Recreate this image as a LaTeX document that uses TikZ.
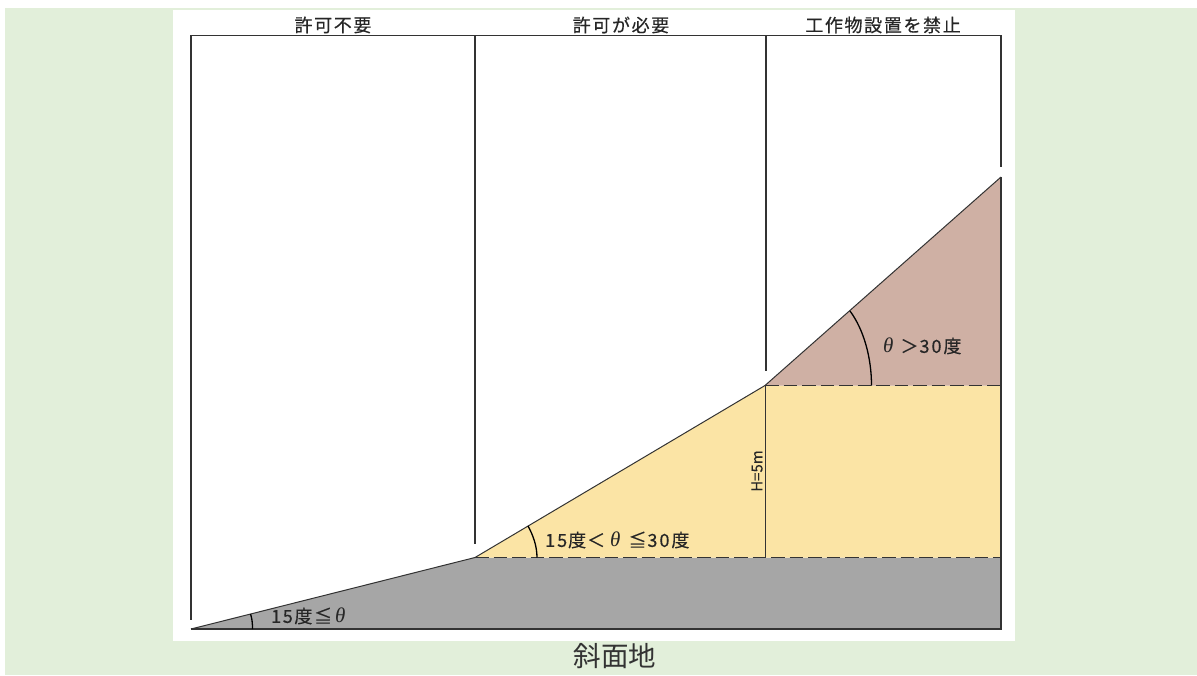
\documentclass[tikz,border=0pt]{standalone}
\usepackage{fontspec}
\setmainfont{Liberation Sans}
\newfontfamily\jp[FakeBold=0.3]{Noto Sans CJK JP}
\newfontfamily\jpcap{Noto Sans CJK JP}
\newfontfamily\jpwide[LetterSpace=9,FakeBold=0.4]{Noto Sans CJK JP}
\newfontfamily\thetaf{Liberation Serif}
\newcommand{\thet}{{\thetaf\itshape\fontsize{21}{21}\selectfont θ}}
\usepackage{xcolor}
\definecolor{pagegreen}{HTML}{E2EFDA}
\definecolor{greyfill}{HTML}{A6A6A6}
\definecolor{yellowfill}{HTML}{FBE4A5}
\definecolor{brownfill}{HTML}{CFB0A4}
\definecolor{inkline}{HTML}{333333}
\tikzset{
  wall/.style={draw=inkline,line width=1.5pt},
  slope/.style={draw=inkline,line width=1pt},
  dashline/.style={draw=inkline,line width=1.5pt,dash pattern=on 13.5pt off 5pt},
  arcline/.style={draw=black,line width=1.3pt},
  lab/.style={inner sep=0pt,font=\jpwide\fontsize{18}{18}\selectfont,text=black!85},
}
\begin{document}
\begin{tikzpicture}[x=1pt,y=-1pt]
\useasboundingbox (0,0) rectangle (1197,675);
\fill[white] (0,0) rectangle (1197,675);
\fill[pagegreen] (5,8) rectangle (1197,675);
\fill[white] (173,10) rectangle (1015,641);
% coordinates
\coordinate (toe) at (191,629);
\coordinate (k1) at (475,557.5);
\coordinate (k2) at (765,385.5);
\coordinate (top) at (1001,177);
\coordinate (br) at (1001,629);
\coordinate (y1) at (1001,557.5);
\coordinate (y2) at (1001,385.5);
% fills
\fill[greyfill] (toe) -- (k1) -- (y1) -- (br) -- cycle;
\fill[yellowfill] (k1) -- (k2) -- (y2) -- (y1) -- cycle;
\fill[brownfill] (k2) -- (top) -- (y2) -- cycle;
% ground lines
\draw[slope] (toe) -- (k1) -- (k2) -- (top);
\draw[wall] (toe) -- (br) -- (top);
\draw[dashline] (k1) -- (y1);
\draw[dashline] (k2) -- (y2);
\draw[slope] (k2) -- (765,557.5);
% dimension lines
\coordinate (d0) at (191,35);
\coordinate (d1) at (475,35);
\coordinate (d2) at (766,35);
\coordinate (d3) at (1001,35);
\draw[slope] (d0) -- (d3);
\draw[wall] (d0) -- (191,620);
\draw[wall] (d1) -- (475,544);
\draw[wall] (d2) -- (766,371);
\draw[wall] (d3) -- (1001,167);
\draw[wall] (191,35.5) -- (196,35.5);
\draw[wall] (470,35.5) -- (481,35.5);
\draw[wall] (761,35.5) -- (771,35.5);
\draw[wall] (996,35.5) -- (1001,35.5);
% arcs
\draw[arcline] (250.5,614) .. controls (252,618) and (252.5,623) .. (252.5,629);
\draw[arcline] (528,526) .. controls (533,535) and (537,546) .. (537,557.5);
\draw[arcline] (850,311) .. controls (864,330) and (871.5,358) .. (871.5,385.5);
% labels
\node[lab] (t1) at (333,25) {許可不要};
\node[lab] (t2) at (621,25) {許可が必要};
\node[lab] (t3) at (883,25) {工作物設置を禁止};
\node[lab,anchor=west] (a1) at (271,616) {15度≦\hspace{3pt}\thet};
\node[lab,anchor=west] (a2) at (545,540) {1\hspace{2pt}5\hspace{1pt}度\hspace{1pt}＜\hspace{5pt}\thet\hspace{8pt}≦\hspace{1pt}3\hspace{2pt}0\hspace{2pt}度};
\node[lab,anchor=west] (a3) at (883,346) {\thet\hspace{7pt}＞\hspace{1pt}3\hspace{2pt}0\hspace{2pt}度};
\node[lab,rotate=90,font=\jp\fontsize{15}{15}\selectfont] (h) at (757,471) {H=5m};
\node[inner sep=0pt,font=\jpcap\fontsize{27.5}{27.5}\selectfont,text=black!80] (cap) at (615,656) {斜面地};
\end{tikzpicture}
\end{document}
